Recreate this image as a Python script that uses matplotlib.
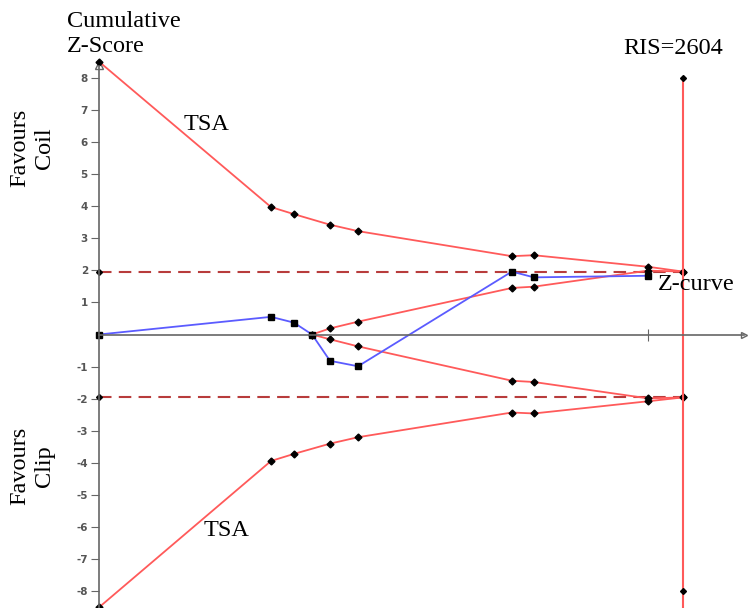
import numpy as np
import matplotlib.pyplot as plt

# cumulative number of patients at each interim look
n_pts = [0, 767, 869, 950, 1030, 1155, 1841, 1939, 2448, 2604]
ris = 2604

# trial sequential monitoring boundaries (upper / lower)
upper_bound = [8.5, 3.97, 3.75, None, 3.42, 3.22, 2.44, 2.47, 2.11, 1.96]
lower_bound = [-8.5, -3.94, -3.72, None, -3.40, -3.20, -2.43, -2.46, -2.08, -1.96]

# futility (inner wedge)
fut_x = [950, 1030, 1155, 1841, 1939, 2448, 2604]
fut_upper = [0.0, 0.19, 0.40, 1.45, 1.49, 1.99, 1.96]
fut_lower = [0.0, -0.15, -0.37, -1.44, -1.48, -1.99, -1.96]

# cumulative Z-curve
z_x = [0, 767, 869, 950, 1030, 1155, 1841, 1939, 2448]
z_vals = [0.0, 0.55, 0.37, 0.0, -0.82, -0.99, 1.96, 1.78, 1.83]

conv = 1.96
yticks = [-8, -7, -6, -5, -4, -3, -2, -1, 1, 2, 3, 4, 5, 6, 7, 8]

RED = '#ff5a5a'
BLUE = '#5b5bff'
DASH = '#b83c3c'
serif = ['Liberation Serif', 'DejaVu Serif']
FS = 17.5

fig = plt.figure(figsize=(7.48, 6.08), dpi=100)
ax = fig.add_axes([0, 0, 1, 1])

# map data to pixel layout of the reference
px0, px1 = 99, 683
sx = (px1 - px0) / ris
ax.set_xlim(-px0 / sx, (748 - px0) / sx)
y0, sy = 334.5, 32.1
ax.set_ylim(-(608 - y0) / sy, y0 / sy)

for s in ['top', 'right']:
    ax.spines[s].set_visible(False)
ax.spines['left'].set_position(('data', 0))
ax.spines['bottom'].set_position(('data', 0))
ax.spines['left'].set_bounds(-9, 8.35)
ax.spines['bottom'].set_bounds(0, (744 - px0) / sx)
for s in ['left', 'bottom']:
    ax.spines[s].set_color('#666666')
    ax.spines[s].set_linewidth(1.2)

ax.set_yticks(yticks)
ax.set_yticklabels([str(t) for t in yticks], fontsize=7.5, color='#555555', fontweight='bold')
ax.tick_params(axis='y', direction='out', length=6, color='#666666', pad=2)
ax.set_xticks([2448])
ax.set_xticklabels([''])
ax.tick_params(axis='x', direction='inout', length=8, color='#666666')

# axis arrowheads
ax.plot([0], [8.4], marker='^', ms=6, mfc='none', mec='#666666', clip_on=False)
ax.plot([(744 - px0) / sx], [0], marker='>', ms=5, mfc='none', mec='#666666', clip_on=False)

# conventional boundaries
for v in [conv, -conv]:
    ax.plot([0, ris], [v, v], color=DASH, lw=1.5, ls=(0, (6, 3.5)))
    ax.plot([0, ris], [v, v], ls='none', marker='D', ms=3, color='black')

# TSA boundaries
ux = [x for x, v in zip(n_pts, upper_bound) if v is not None]
uy = [v for v in upper_bound if v is not None]
lx = [x for x, v in zip(n_pts, lower_bound) if v is not None]
ly = [v for v in lower_bound if v is not None]
ax.plot(ux, uy, color=RED, lw=1.3, marker='D', ms=3.5, mfc='black', mec='black', clip_on=False)
ax.plot(lx, ly, color=RED, lw=1.3, marker='D', ms=3.5, mfc='black', mec='black', clip_on=False)

# futility wedge
ax.plot(fut_x, fut_upper, color=RED, lw=1.3, marker='D', ms=3.5, mfc='black', mec='black')
ax.plot(fut_x, fut_lower, color=RED, lw=1.3, marker='D', ms=3.5, mfc='black', mec='black')

# RIS line
ax.plot([ris, ris], [-9, 8], color=RED, lw=1.5, clip_on=False)
ax.plot([ris, ris], [8, -8], ls='none', marker='D', ms=3, color='black')

# Z-curve
ax.plot(z_x, z_vals, color=BLUE, lw=1.3, marker='s', ms=4.5, mfc='black', mec='black')

# labels
fig.text(67 / 748, 1 - 27 / 608, 'Cumulative', family=serif, fontsize=FS, va='baseline', ha='left')
fig.text(67 / 748, 1 - 52 / 608, 'Z-Score', family=serif, fontsize=FS, va='baseline', ha='left')
fig.text(207 / 748, 1 - 124 / 608, 'TSA', family=serif, fontsize=FS, ha='center', va='center')
fig.text(227 / 748, 1 - 530 / 608, 'TSA', family=serif, fontsize=FS, ha='center', va='center')
fig.text(673 / 748, 1 - 48 / 608, 'RIS=2604', family=serif, fontsize=FS, ha='center', va='center')
fig.text(696 / 748, 1 - 285 / 608, 'Z-curve', family=serif, fontsize=FS, ha='center', va='center')
fig.text(32 / 748, 1 - 148 / 608, 'Favours\nCoil', family=serif, fontsize=FS, rotation=90,
         ha='center', va='center', linespacing=1.25)
fig.text(32 / 748, 1 - 466 / 608, 'Favours\nClip', family=serif, fontsize=FS, rotation=90,
         ha='center', va='center', linespacing=1.25)

fig.savefig('out.png', dpi=100)
